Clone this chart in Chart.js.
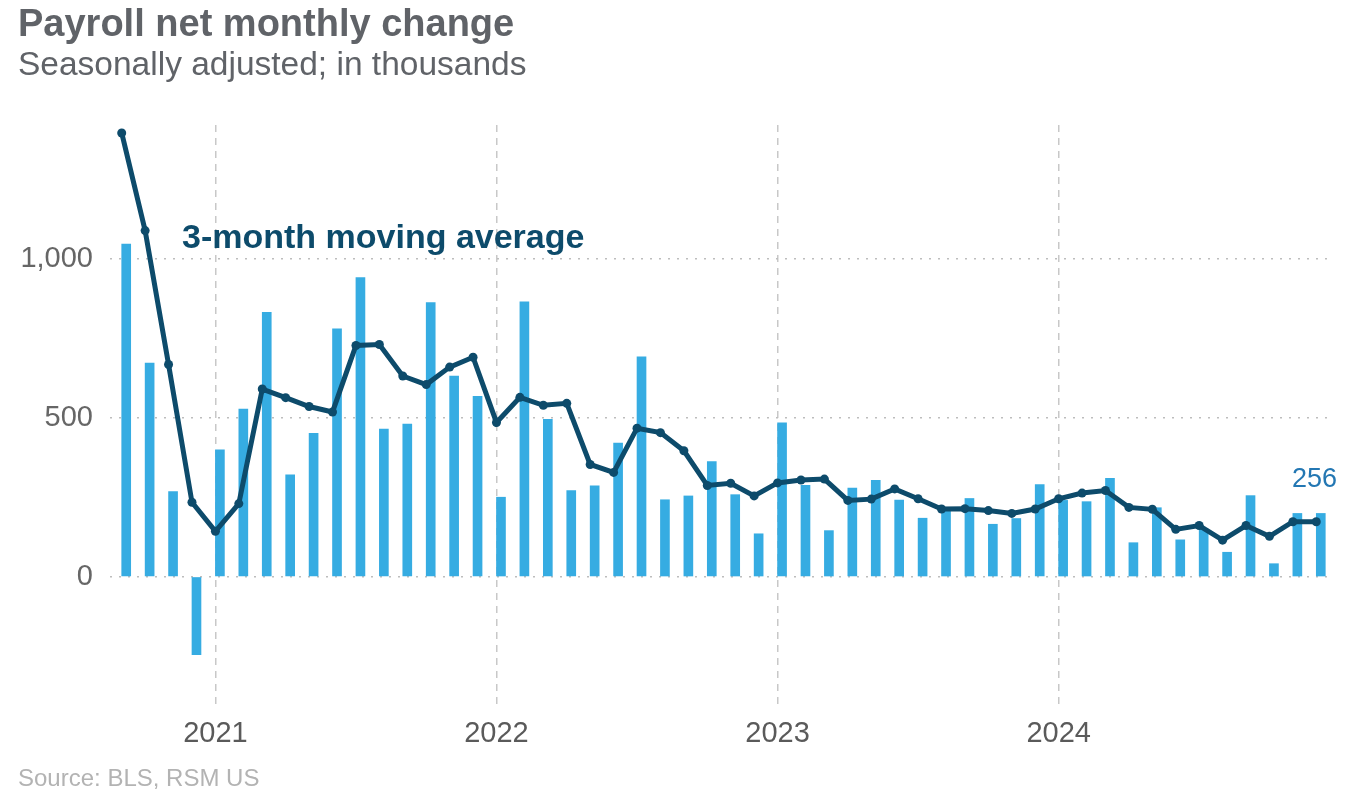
<!DOCTYPE html>
<html>
<head>
<meta charset="utf-8">
<title>Payroll net monthly change</title>
<script src="https://cdn.jsdelivr.net/npm/chart.js"></script>
<style>
  body { margin: 0; background: #fff; font-family: "Liberation Sans", Arial, sans-serif; }
  #wrap { position: relative; width: 1349px; height: 796px; overflow: hidden; }
  #box { position: absolute; left: 0; top: 0; width: 1349px; height: 796px; }
  .txt { position: absolute; white-space: nowrap; line-height: 1; }
  #title { left: 18px; top: 4px; font-size: 38px; font-weight: bold; color: #606368; }
  #subtitle { left: 18px; top: 47px; font-size: 33.5px; color: #606368; }
  #source { left: 18px; top: 766px; font-size: 24px; color: #b3b3b3; }
  #avgLabel { left: 182px; top: 219px; font-size: 34px; font-weight: bold; color: #0d4b6b; }
  #lastLabel { left: 1292px; top: 465px; font-size: 27px; color: #2377b3; }
</style>
</head>
<body>
<div id="wrap">
  <div id="box"><canvas id="grafico"></canvas></div>
  <div class="txt" id="title">Payroll net monthly change</div>
  <div class="txt" id="subtitle">Seasonally adjusted; in thousands</div>
  <div class="txt" id="avgLabel">3-month moving average</div>
  <div class="txt" id="lastLabel">256</div>
  <div class="txt" id="source">Source: BLS, RSM US</div>
</div>
<script>
const months = [
  '2020-09', '2020-10', '2020-11', '2020-12',
  '2021-01', '2021-02', '2021-03', '2021-04', '2021-05', '2021-06', '2021-07', '2021-08', '2021-09', '2021-10', '2021-11', '2021-12',
  '2022-01', '2022-02', '2022-03', '2022-04', '2022-05', '2022-06', '2022-07', '2022-08', '2022-09', '2022-10', '2022-11', '2022-12',
  '2023-01', '2023-02', '2023-03', '2023-04', '2023-05', '2023-06', '2023-07', '2023-08', '2023-09', '2023-10', '2023-11', '2023-12',
  '2024-01', '2024-02', '2024-03', '2024-04', '2024-05', '2024-06', '2024-07', '2024-08', '2024-09', '2024-10', '2024-11', '2024-12'
];

// monthly net change, thousands
const payrollChange = [
  1046, 672, 268, -245,
  399, 527, 831, 320, 451, 779, 940, 464, 480, 862, 631, 567,
  250, 864, 495, 271, 286, 420, 691, 242, 254, 362, 258, 135,
  484, 287, 145, 279, 303, 241, 184, 210, 246, 165, 183, 290,
  240, 236, 309, 107, 217, 116, 150, 77, 255, 41, 199, 199
];

const movingAvg3 = [
  1395, 1088, 667, 234,
  143, 230, 590, 563, 535, 518, 727, 730, 631, 604, 659, 690,
  485, 564, 539, 545, 353, 328, 467, 453, 396, 287, 294, 254,
  295, 304, 307, 240, 244, 276, 245, 213, 214, 208, 199, 213,
  245, 263, 271, 218, 212, 149, 161, 115, 161, 127, 173, 173
];

const yearTicks = ['2021', '2022', '2023', '2024'];
const valueTicks = [0, 500, 1000];

const azulBarra = '#36ace2';
const azulLinha = '#0d4b6b';

Chart.defaults.font.family = "'Liberation Sans', Arial, sans-serif";

function isJaneiro(i) {
  const m = months[i];
  return m && m.endsWith('-01') && yearTicks.includes(m.slice(0, 4));
}

const ctx = document.getElementById('grafico').getContext('2d');
new Chart(ctx, {
  data: {
    labels: months,
    datasets: [
      {
        // empty spacer so the real bars sit a little right of the line points, like the original
        type: 'bar',
        data: months.map(() => null),
        backgroundColor: 'transparent',
        barThickness: 9,
        order: 1
      },
      {
        type: 'bar',
        label: 'Payroll change',
        data: payrollChange,
        backgroundColor: azulBarra,
        borderWidth: 0,
        barThickness: 9,
        order: 2
      },
      {
        type: 'line',
        label: '3-month moving average',
        data: movingAvg3,
        borderColor: azulLinha,
        borderWidth: 5,
        tension: 0,
        pointRadius: 4.5,
        pointBackgroundColor: azulLinha,
        pointBorderWidth: 0,
        order: 0
      }
    ]
  },
  options: {
    responsive: true,
    maintainAspectRatio: false,
    animation: false,
    layout: { padding: { top: 125, right: 21, bottom: 32, left: 0 } },
    plugins: { legend: { display: false }, tooltip: { enabled: false } },
    scales: {
      x: {
        type: 'category',
        offset: true,
        afterFit: s => { s.height = 60; },
        grid: {
          offset: false,
          drawTicks: false,
          lineWidth: 1.5,
          color: c => isJaneiro(c.index) ? '#c8c8c8' : 'transparent'
        },
        border: { display: false, dash: [7, 6] },
        ticks: {
          autoSkip: false,
          maxRotation: 0,
          padding: 13,
          color: '#5a5a5a',
          font: { size: 29 },
          callback: (v, i) => isJaneiro(i) ? months[i].slice(0, 4) : ''
        }
      },
      y: {
        min: -400,
        max: 1420,
        afterFit: s => { s.width = 110; },
        afterBuildTicks: s => { s.ticks = valueTicks.map(v => ({ value: v })); },
        grid: { drawTicks: false, lineWidth: 1.5, color: '#bdbdbd' },
        border: { display: false, dash: [2, 7] },
        ticks: {
          padding: 17,
          color: '#666',
          font: { size: 29 },
          callback: v => v.toLocaleString('en-US')
        }
      }
    }
  }
});
</script>
</body>
</html>
